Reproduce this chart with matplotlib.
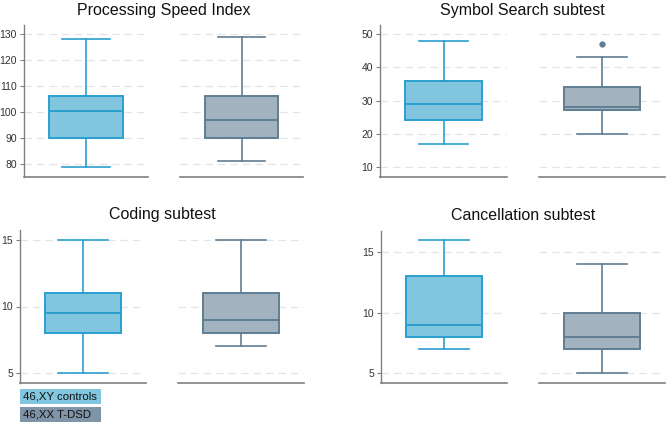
import matplotlib
matplotlib.use('Agg')
import matplotlib.pyplot as plt
from matplotlib.patches import Rectangle

plt.rcParams['font.family'] = ['Liberation Sans', 'DejaVu Sans']

# Five-number summaries: (min, Q1, median, Q3, max)
titles = ['Processing Speed Index', 'Symbol Search subtest',
          'Coding subtest', 'Cancellation subtest']
controls = [(79, 90, 100.5, 106, 128),
            (17, 24, 29, 36, 48),
            (5, 8, 9.5, 11, 15),
            (7, 8, 9, 13, 16)]
tdsd = [(81, 90, 97, 106, 129),
        (20, 27, 28, 34, 43),
        (7, 8, 9, 11, 15),
        (5, 7, 8, 10, 14)]
tdsd_outliers = [[], [47], [], []]
yticks = [[80, 90, 100, 110, 120, 130],
          [10, 20, 30, 40, 50],
          [5, 10, 15],
          [5, 10, 15]]
ylims = [(75, 133.5), (7.0, 52.7), (4.25, 15.75), (4.17, 16.74)]
group_labels = ['46,XY controls', '46,XX T-DSD']

c_fill, c_edge = '#81c5de', '#2a9fcf'
t_fill, t_edge = '#a2b2be', '#5f7d93'
grid_c = '#e4e4e4'
spine_c = '#808080'

W, H = 669, 425
fig = plt.figure(figsize=(W / 100, H / 100), dpi=100)

# pixel layout of each panel: (left seg x0, x1, right seg x0, x1, y top, y bottom)
layout = [(24, 148, 180, 303, 25, 177),
          (380, 507, 539, 665, 25, 177),
          (20, 146, 178, 304, 230, 383),
          (381, 507, 539, 665, 231, 383)]


def px_axes(x0, x1, yt, yb):
    return fig.add_axes([x0 / W, 1 - yb / H, (x1 - x0) / W, (yb - yt) / H])


for i in range(4):
    lx0, lx1, rx0, rx1, yt, yb = layout[i]
    groups = [(controls[i], [], c_fill, c_edge), (tdsd[i], tdsd_outliers[i], t_fill, t_edge)]
    for j, (x0, x1) in enumerate([(lx0, lx1), (rx0, rx1)]):
        ax = px_axes(x0, x1, yt, yb)
        s, fl, fc, ec = groups[j]
        stats = [dict(whislo=s[0], q1=s[1], med=s[2], q3=s[3], whishi=s[4], fliers=fl)]
        ax.bxp(stats, positions=[0], widths=1.2, capwidths=0.78, patch_artist=True,
               boxprops=dict(facecolor=fc, edgecolor=ec, linewidth=1.4),
               medianprops=dict(color=ec, linewidth=1.4),
               whiskerprops=dict(color=ec, linewidth=1.2),
               capprops=dict(color=ec, linewidth=1.2),
               flierprops=dict(marker='o', markersize=3.5, markerfacecolor=t_edge,
                               markeredgecolor=t_edge))
        ax.set_xlim(-1, 1)
        ax.set_ylim(*ylims[i])
        ax.set_yticks(yticks[i])
        ax.yaxis.grid(True, color=grid_c, linestyle=(0, (6, 4)), linewidth=0.9)
        ax.set_axisbelow(True)
        ax.set_xticks([])
        for sp in ['top', 'right']:
            ax.spines[sp].set_visible(False)
        ax.spines['bottom'].set_color(spine_c)
        ax.spines['bottom'].set_linewidth(1.2)
        if j == 0:
            ax.spines['left'].set_color(spine_c)
            ax.spines['left'].set_linewidth(1.0)
            ax.tick_params(axis='y', length=3, width=0.8, color=spine_c,
                           labelsize=7.5, labelcolor='#333333', pad=2)
        else:
            ax.spines['left'].set_visible(False)
            ax.tick_params(axis='y', left=False, labelleft=False)
    fig.text((lx0 + rx1) / 2 / W, 1 - (yt - 15) / H, titles[i], ha='center', va='center',
             fontsize=11.5, color='#111111')

# legend boxes under the coding panel
for k, (lab, col) in enumerate(zip(group_labels, [c_fill, '#8094a8'])):
    y0 = 389 + k * 18
    fig.patches.append(Rectangle((20 / W, 1 - (y0 + 15) / H), 81 / W, 15 / H,
                                 transform=fig.transFigure, facecolor=col, edgecolor='none'))
    fig.text(23 / W, 1 - (y0 + 7.5) / H, lab, ha='left', va='center', fontsize=8.2,
             color='#111111')

fig.savefig('out.png', dpi=100)
